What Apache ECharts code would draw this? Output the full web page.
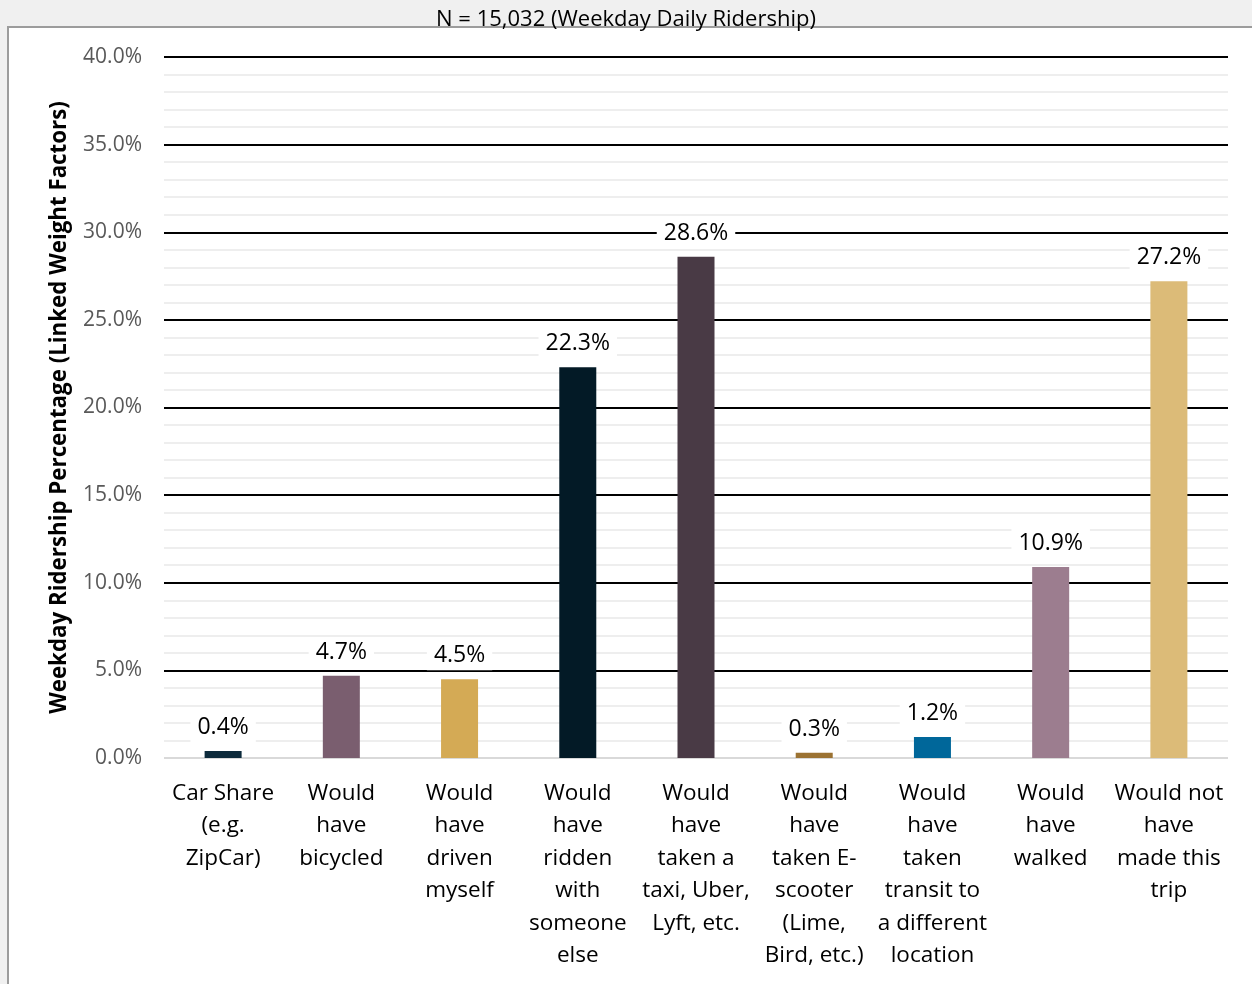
<!DOCTYPE html>
<html>
<head>
<meta charset="utf-8">
<title>Weekday Daily Ridership</title>
<script src="https://cdn.jsdelivr.net/npm/echarts@6/dist/echarts.min.js"></script>
<style>
  html, body { margin: 0; padding: 0; background: #f0f0f0; overflow: hidden; }
  #frame {
    position: absolute; left: 7px; top: 26px; width: 1300px; height: 1000px;
    background: #ffffff; border-left: 2px solid #9c9c9c; border-top: 2px solid #9c9c9c;
  }
  #chart { position: absolute; left: 0; top: 0; width: 1252px; height: 984px; }
</style>
</head>
<body>
<div id="frame"></div>
<div id="chart"></div>
<script>
// Alternative travel modes reported by weekday riders
const categories = [
  'Car Share\n(e.g.\nZipCar)',
  'Would\nhave\nbicycled',
  'Would\nhave\ndriven\nmyself',
  'Would\nhave\nridden\nwith\nsomeone\nelse',
  'Would\nhave\ntaken a\ntaxi, Uber,\nLyft, etc.',
  'Would\nhave\ntaken E-\nscooter\n(Lime,\nBird, etc.)',
  'Would\nhave\ntaken\ntransit to\na different\nlocation',
  'Would\nhave\nwalked',
  'Would not\nhave\nmade this\ntrip'
];
// Share of weekday ridership, percent
const shares = [0.4, 4.7, 4.5, 22.3, 28.6, 0.3, 1.2, 10.9, 27.2];
const barColors = ['#0c2a3b', '#7a5e6f', '#d4aa55', '#031a26', '#493a45',
                   '#9b7232', '#00679a', '#9c7d8f', '#dcbb78'];
const yTicks = [0, 5, 10, 15, 20, 25, 30, 35, 40];

const FONT = 'Open Sans';
const chart = echarts.init(document.getElementById('chart'), null, { renderer: 'canvas' });

chart.setOption({
  backgroundColor: 'transparent',
  animation: false,
  title: {
    text: 'N = 15,032 (Weekday Daily Ridership)',
    left: 'center',
    top: 4,
    textStyle: { fontFamily: FONT, fontSize: 22, fontWeight: 'normal', color: '#000' }
  },
  grid: { left: 164, right: 24, top: 57, bottom: 226, containLabel: false },
  xAxis: {
    type: 'category',
    data: categories,
    axisLine: { show: false },
    axisTick: { show: false },
    axisLabel: {
      interval: 0,
      margin: 19,
      fontFamily: FONT,
      fontSize: 22.5,
      lineHeight: 32.5,
      color: '#000',
      align: 'center',
      verticalAlign: 'top'
    }
  },
  yAxis: {
    type: 'value',
    min: yTicks[0],
    max: yTicks[yTicks.length - 1],
    interval: 5,
    name: 'Weekday Ridership Percentage (Linked Weight Factors)',
    nameLocation: 'middle',
    nameGap: 93,
    nameTextStyle: { fontFamily: FONT, fontSize: 22.3, fontWeight: 'bold', color: '#000' },
    axisLine: { show: false },
    axisTick: { show: false },
    axisLabel: {
      margin: 22,
      fontFamily: FONT,
      fontSize: 21,
      color: '#595959',
      formatter: v => v.toFixed(1) + '%'
    },
    splitLine: {
      show: true,
      lineStyle: {
        width: 1.8,
        color: yTicks.map(v => (v === 0 ? '#d9d9d9' : '#000000'))
      }
    },
    minorTick: { show: false, splitNumber: 5 },
    minorSplitLine: { show: true, lineStyle: { color: '#eeeeee', width: 2 } }
  },
  series: [{
    type: 'bar',
    data: shares.map((v, i) => ({ value: v, itemStyle: { color: barColors[i] } })),
    barWidth: 37,
    label: {
      show: true,
      position: 'top',
      distance: 9,
      fontFamily: FONT,
      fontSize: 23,
      color: '#000',
      backgroundColor: '#ffffff',
      padding: [3, 7],
      formatter: p => p.value.toFixed(1) + '%'
    }
  }]
});
</script>
</body>
</html>
